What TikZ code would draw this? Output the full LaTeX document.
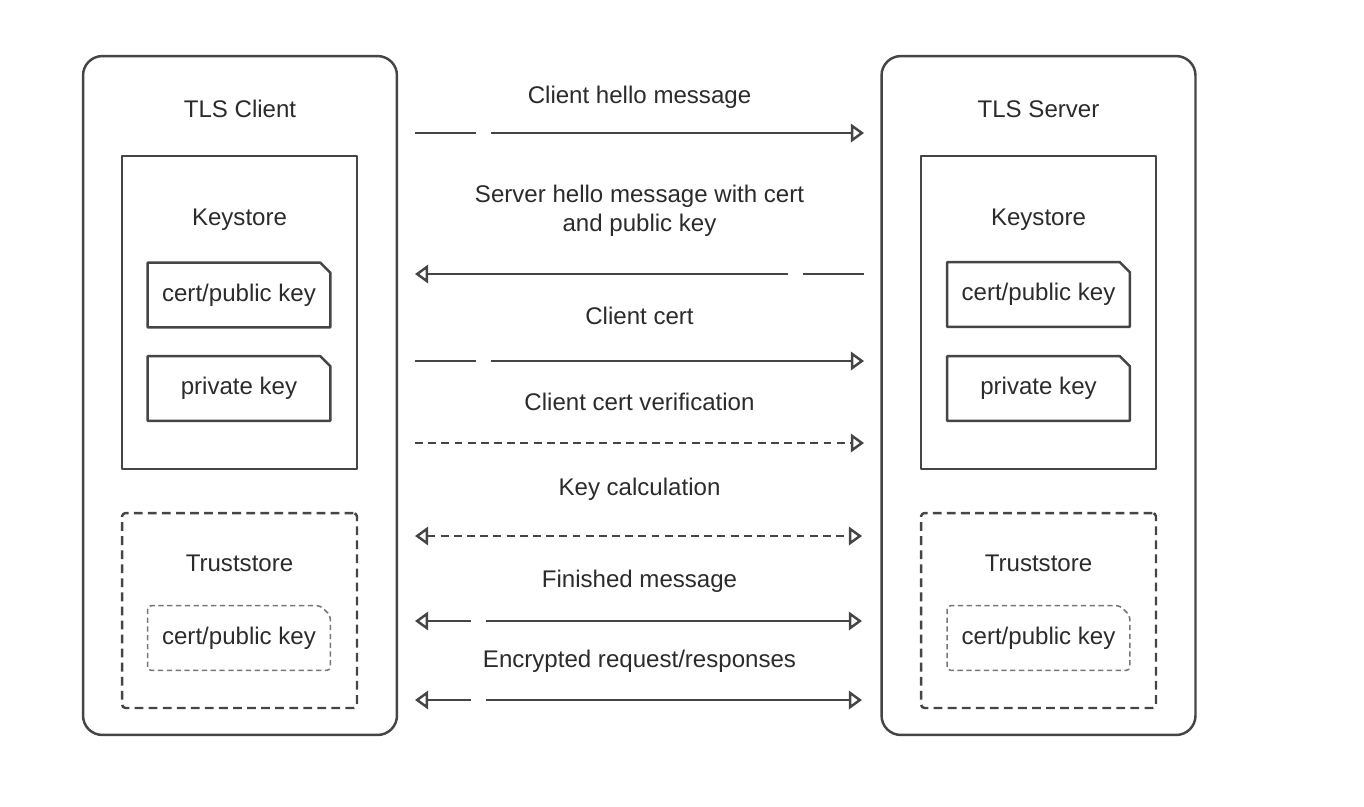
\documentclass[tikz,border=0pt]{standalone}
\usepackage{fontspec}
\setmainfont{Liberation Sans}
\usetikzlibrary{arrows.meta}
\definecolor{linegray}{HTML}{454545}
\definecolor{textgray}{HTML}{2B2B2B}
\definecolor{softgray}{HTML}{777777}

\begin{document}
\begin{tikzpicture}
 [x=0.02cm,y=-0.02cm,line join=round,
 >={Triangle[open,length=7.5pt,width=10.5pt]},
 every node/.style={font=\fontsize{13.7}{16.4}\selectfont,text=textgray},
 party/.style={draw=linegray,line width=1.4pt,rounded corners=11pt,minimum width=6.28cm,minimum height=13.58cm},
 store/.style={draw=linegray,line width=1.4pt,minimum width=4.7cm,minimum height=6.26cm},
 truststore/.style={draw=linegray,line width=1.4pt,rounded corners=2pt,dash pattern=on 5pt off 3pt,minimum width=4.7cm,minimum height=3.9cm},
 keyfile/.style={minimum width=3.64cm,minimum height=1.28cm},
 docline/.style={draw=linegray,line width=1.4pt},
 msg/.style={draw=linegray,line width=1.4pt},
 dashmsg/.style={msg,dash pattern=on 4.5pt off 3pt}]
\useasboundingbox (0,0) rectangle (1364,806);

% client and server
\node[party] (client) at (240,395.5) {};
\node[party] (server) at (1038.5,395.5) {};
\node[anchor=base] (clientlabel) at (240,117) {TLS Client};
\node[anchor=base] (serverlabel) at (1038.5,117) {TLS Server};

% keystores
\node[store] (cstore) at (239.5,312.5) {};
\node[store] (sstore) at (1038.5,312.5) {};
\node[anchor=base] (cstorelabel) at (239.5,225) {Keystore};
\node[anchor=base] (sstorelabel) at (1038.5,225) {Keystore};

\node[keyfile] (ccert) at (239,295) {cert/public key};
\node[keyfile] (cpriv) at (239,388.5) {private key};
\node[keyfile] (scert) at (1038.5,294.5) {cert/public key};
\node[keyfile] (spriv) at (1038.5,388.5) {private key};

\foreach \d in {ccert,cpriv,scert,spriv}
{
	\draw[docline] (\d.south west) -- (\d.north west) -- ([xshift=-0.2cm]\d.north east)
	-- ([yshift=-0.2cm]\d.north east) -- (\d.south east) -- cycle;
}

% truststores
\node[truststore] (ctrust) at (239.5,610.5) {};
\node[truststore] (strust) at (1038.5,610.5) {};
\node[anchor=base] (ctrustlabel) at (239.5,571) {Truststore};
\node[anchor=base] (strustlabel) at (1038.5,571) {Truststore};

\node[keyfile] (ctcert) at (239,638) {cert/public key};
\node[keyfile] (stcert) at (1038.5,638) {cert/public key};

\foreach \d in {ctcert,stcert}
{
	\draw[draw=softgray,line width=0.9pt,dash pattern=on 3pt off 2pt,rounded corners=2pt]
	(\d.south west) -- (\d.north west) -- ([xshift=-0.2cm]\d.north east)
	-- ([yshift=-0.2cm]\d.north east) -- (\d.south east) -- cycle;
}

% messages
\node[anchor=base] (hellotext) at (639.5,103) {Client hello message};
\node[anchor=base,align=center] (srvtext) at (639.5,231) {Server hello message with cert\\and public key};
\node[anchor=base] (certtext) at (639.5,324) {Client cert};
\node[anchor=base] (verifytext) at (639.5,410) {Client cert verification};
\node[anchor=base] (keytext) at (639.5,495) {Key calculation};
\node[anchor=base] (donetext) at (639.5,587) {Finished message};
\node[anchor=base] (enctext) at (639.5,667) {Encrypted request/responses};

\foreach \y/\n in {133/hello,361/cert}
{
	\coordinate (\n L) at (415,\y);
	\coordinate (\n A) at (476,\y);
	\coordinate (\n B) at (491,\y);
	\coordinate (\n R) at (864,\y);
	\draw[msg] (\n L) -- (\n A);
	\draw[msg,->] (\n B) -- (\n R);
}

\coordinate (srvL) at (415,274);
\coordinate (srvA) at (788,274);
\coordinate (srvB) at (803,274);
\coordinate (srvR) at (864,274);
\draw[msg,<-] (srvL) -- (srvA);
\draw[msg] (srvB) -- (srvR);

\coordinate (verifyL) at (415,443);
\coordinate (verifyR) at (864,443);
\draw[dashmsg,->] (verifyL) -- (verifyR);

\coordinate (keyL) at (415,536);
\coordinate (keyR) at (862,536);
\draw[dashmsg,<->] (keyL) -- (keyR);

\foreach \y/\n in {621/done,700/enc}
{
	\coordinate (\n L) at (415,\y);
	\coordinate (\n A) at (471,\y);
	\coordinate (\n B) at (486,\y);
	\coordinate (\n R) at (862,\y);
	\draw[msg,<-] (\n L) -- (\n A);
	\draw[msg,->] (\n B) -- (\n R);
}

\end{tikzpicture}
\end{document}
